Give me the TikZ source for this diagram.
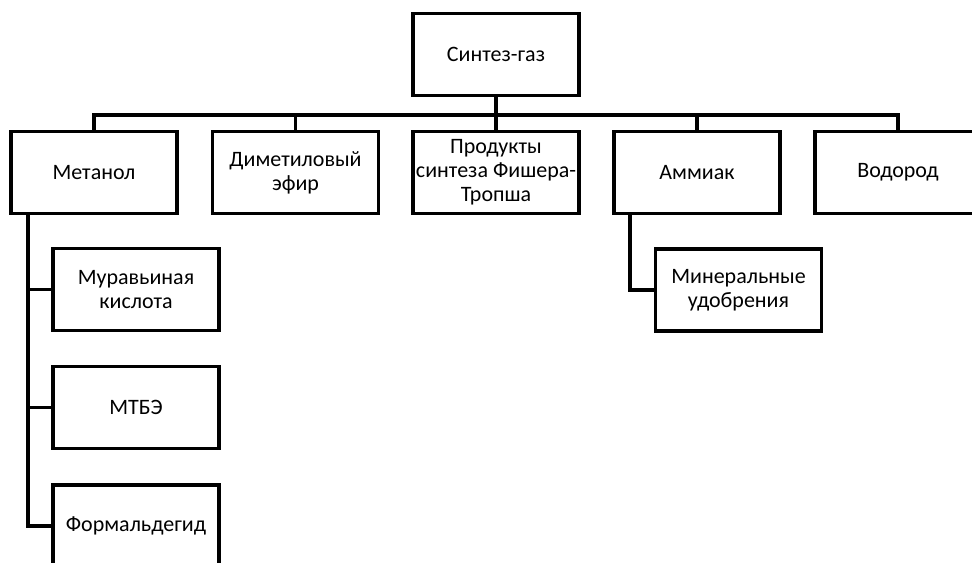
\documentclass[tikz,border=0pt]{standalone}
\usepackage{fontspec}
\setmainfont{Carlito}

\begin{document}
\begin{tikzpicture}[x=0.75pt, y=-0.75pt,
	box/.style={draw, rectangle, line width=2.6pt, minimum width=124.5pt, minimum height=61.5pt, inner xsep=0pt, align=center, font=\fontsize{16.5}{18}\selectfont},
	link/.style={line width=2.6pt}]
			\useasboundingbox (0, 0) rectangle (972, 562);
			\coordinate (BUS) at (0, 115);
			\coordinate (MT) at (28, 213);
			\coordinate (AT) at (630, 213);
			\node[box] (SG)at(496, 54.5) {Синтез-газ};
			\node[box] (M)at(94, 172.5) {Метанол};
			\node[box] (DME)at(295.5, 172.5) {Диметиловый\\эфир};
			\node[box] (FT)at(496, 172.5) {Продукты\\\makebox[120pt]{синтеза Фишера-}\\Тропша};
			\node[box] (AM)at(697, 172.5) {Аммиак};
			\node[box] (H)at(898, 172.5) {Водород};
			\node[box] (MK)at(136, 289.5) {Муравьиная\\кислота};
			\node[box] (MTBE)at(136, 407.5) {МТБЭ};
			\node[box] (FA)at(136, 526) {Формальдегид};
			\node[box] (MU)at(738.5, 290) {Минеральные\\удобрения};
			\draw[link] (SG.south) -- (SG.south |- BUS) -| (M.north);
			\draw[link] (SG.south) -- (SG.south |- BUS) -| (DME.north);
			\draw[link] (SG.south) -- (FT.north);
			\draw[link] (SG.south) -- (SG.south |- BUS) -| (AM.north);
			\draw[link] (SG.south) -- (SG.south |- BUS) -| (H.north);
			\draw[link] (MT) |- (MK.west);
			\draw[link] (MT) |- (MTBE.west);
			\draw[link] (MT) |- (FA.west);
			\draw[link] (AT) |- (MU.west);
		\end{tikzpicture}
\end{document}
